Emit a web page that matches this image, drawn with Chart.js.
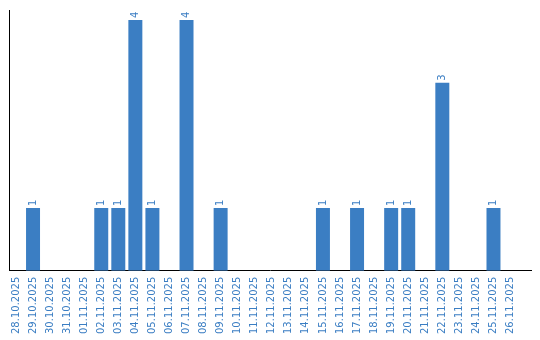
<!DOCTYPE html>
<html>
<head>
<meta charset="utf-8">
<script src="https://cdn.jsdelivr.net/npm/chart.js@4"></script>
<style>
  html, body { margin: 0; padding: 0; background: #fff; }
  #wrap { width: 540px; height: 340px; }
</style>
</head>
<body>
<div id="wrap"><canvas id="bar-chart"></canvas></div>
<script>
const days = ['28.10.2025', '29.10.2025', '30.10.2025', '31.10.2025', '01.11.2025',
    '02.11.2025', '03.11.2025', '04.11.2025', '05.11.2025', '06.11.2025',
    '07.11.2025', '08.11.2025', '09.11.2025', '10.11.2025', '11.11.2025',
    '12.11.2025', '13.11.2025', '14.11.2025', '15.11.2025', '16.11.2025',
    '17.11.2025', '18.11.2025', '19.11.2025', '20.11.2025', '21.11.2025',
    '22.11.2025', '23.11.2025', '24.11.2025', '25.11.2025', '26.11.2025'];
const counts = [0, 1, 0, 0, 0, 1, 1, 4, 1, 0,
    4, 0, 1, 0, 0, 0, 0, 0, 1, 0,
    1, 0, 1, 1, 0, 3, 0, 0, 1, 0];

const blue = '#3b7ec3';
const font = "'DejaVu Sans', Verdana, sans-serif";

// value labels above bars, rotated
const valueLabels = {
    id: 'valueLabels',
    afterDatasetsDraw(chart) {
        const ctx = chart.ctx;
        chart.getDatasetMeta(0).data.forEach((bar, i) => {
            if (!counts[i]) return;
            ctx.save();
            ctx.translate(bar.x, bar.y - 2);
            ctx.rotate(-Math.PI / 2);
            ctx.font = '10px ' + font;
            ctx.fillStyle = blue;
            ctx.textAlign = 'left';
            ctx.textBaseline = 'middle';
            ctx.fillText(String(counts[i]), 0, 0);
            ctx.restore();
        });
    }
};

new Chart(document.getElementById('bar-chart'), {
    type: 'bar',
    data: {
        datasets: [{
            data: counts.map((v, i) => ({ x: i, y: v })),
            backgroundColor: blue,
            categoryPercentage: 1,
            barPercentage: 0.82
        }]
    },
    options: {
        responsive: true,
        maintainAspectRatio: false,
        animation: false,
        layout: { padding: { left: 9.5, top: 10, right: 9, bottom: 0 } },
        plugins: { legend: { display: false }, tooltip: { enabled: false } },
        scales: {
            x: {
                type: 'linear',
                offset: false,
                min: -0.38,
                max: 30.2,
                grid: { display: false, drawTicks: false },
                border: { color: '#000', width: 1 },
                afterBuildTicks(axis) {
                    axis.ticks = days.map((d, i) => ({ value: i }));
                },
                ticks: {
                    autoSkip: false,
                    minRotation: 90,
                    maxRotation: 90,
                    padding: 6,
                    color: blue,
                    font: { family: font, size: 10 },
                    callback: (v) => days[v]
                }
            },
            y: {
                min: 0,
                max: 4.16,
                grid: { display: false, drawTicks: false },
                border: { color: '#000', width: 1 },
                ticks: { display: false }
            }
        }
    },
    plugins: [valueLabels]
});
</script>
</body>
</html>
